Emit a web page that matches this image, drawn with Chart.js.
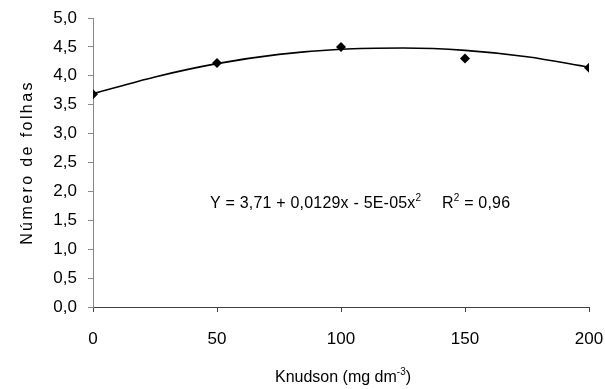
<!DOCTYPE html>
<html>
<head>
<meta charset="UTF-8" />
<script src="https://cdn.jsdelivr.net/npm/chart.js"></script>
<style>
  body, html { margin: 0; padding: 0; background: #ffffff; }
  canvas { display: block; }
</style>
</head>
<body>
<canvas id="myChart" width="605" height="389"></canvas>
<script>
// observed means
const doses = [0, 50, 100, 150, 200];
const folhas = [3.68, 4.22, 4.50, 4.30, 4.14];
// fitted curve
const trendX = [0, 25, 50, 75, 100, 125, 150, 175, 200];
const trendY = [3.69, 3.98, 4.21, 4.37, 4.46, 4.48, 4.44, 4.33, 4.15];
const xTicks = [0, 50, 100, 150, 200];
const yTicks = [0, 0.5, 1, 1.5, 2, 2.5, 3, 3.5, 4, 4.5, 5];

const FONT = '"Liberation Sans", Arial, sans-serif';

// draws text with superscript pieces
function drawRuns(ctx, x, y, runs, size) {
  runs.forEach(([txt, sup]) => {
    ctx.font = (sup ? Math.round(size * 0.65) : size) + 'px ' + FONT;
    ctx.fillText(txt, x, sup ? y - size * 0.42 : y);
    x += ctx.measureText(txt).width;
  });
}

const textPlugin = {
  id: 'texts',
  afterDraw(chart) {
    const ctx = chart.ctx;
    const a = chart.chartArea;
    ctx.save();
    ctx.fillStyle = '#000';
    ctx.textBaseline = 'alphabetic';
    ctx.textAlign = 'left';
    ctx.letterSpacing = '0.2px';
    drawRuns(ctx, 210, 208, [['Y = 3,71 + 0,0129x - 5E-05x', false], ['2', true]], 16);
    drawRuns(ctx, 442, 208, [['R', false], ['2', true], [' = 0,96', false]], 16);
    ctx.letterSpacing = '0px';
    drawRuns(ctx, 275, 382, [['Knudson (mg dm', false], ['-3', true], [')', false]], 16);
    // y title
    ctx.translate(32, (a.top + a.bottom) / 2);
    ctx.rotate(-Math.PI / 2);
    ctx.letterSpacing = '2.4px';
    ctx.font = '16px ' + FONT;
    ctx.textAlign = 'center';
    ctx.fillText('Número de folhas', 0, 0);
    ctx.restore();
  }
};

new Chart(document.getElementById('myChart').getContext('2d'), {
  type: 'scatter',
  data: {
    datasets: [{
      label: 'curva',
      type: 'line',
      data: trendX.map((x, i) => ({ x: x, y: trendY[i] })),
      borderColor: '#000',
      borderWidth: 1.6,
      pointRadius: 0,
      tension: 0.4,
      cubicInterpolationMode: 'monotone',
      fill: false
    }, {
      label: 'folhas',
      data: doses.map((x, i) => ({ x: x, y: folhas[i] })),
      pointStyle: 'rectRot',
      pointRadius: 5,
      backgroundColor: '#000',
      borderColor: '#000',
      borderWidth: 0
    }]
  },
  options: {
    responsive: false,
    animation: false,
    layout: { padding: { left: 0, right: 16, top: 18, bottom: 0 } },
    plugins: { legend: { display: false }, tooltip: { enabled: false } },
    scales: {
      x: {
        type: 'linear',
        min: 0, max: 200,
        afterBuildTicks: s => { s.ticks = xTicks.map(v => ({ value: v })); },
        afterFit: s => { s.height = 82; s.paddingLeft = 0; s.paddingRight = 0; },
        border: { color: '#404040', width: 1 },
        grid: { drawOnChartArea: false, drawTicks: true, tickLength: 5, color: '#404040' },
        ticks: { color: '#000', padding: 17, font: { family: FONT, size: 17 } }
      },
      y: {
        min: 0, max: 5,
        afterBuildTicks: s => { s.ticks = yTicks.map(v => ({ value: v })); },
        afterFit: s => { s.width = 93; s.paddingTop = 0; s.paddingBottom = 0; },
        border: { color: '#888', width: 1 },
        grid: { drawOnChartArea: false, drawTicks: true, tickLength: 5, color: '#888' },
        ticks: {
          color: '#000', padding: 11, font: { family: FONT, size: 17 },
          callback: v => v.toFixed(1).replace('.', ',')
        }
      }
    }
  },
  plugins: [textPlugin]
});
</script>
</body>
</html>
